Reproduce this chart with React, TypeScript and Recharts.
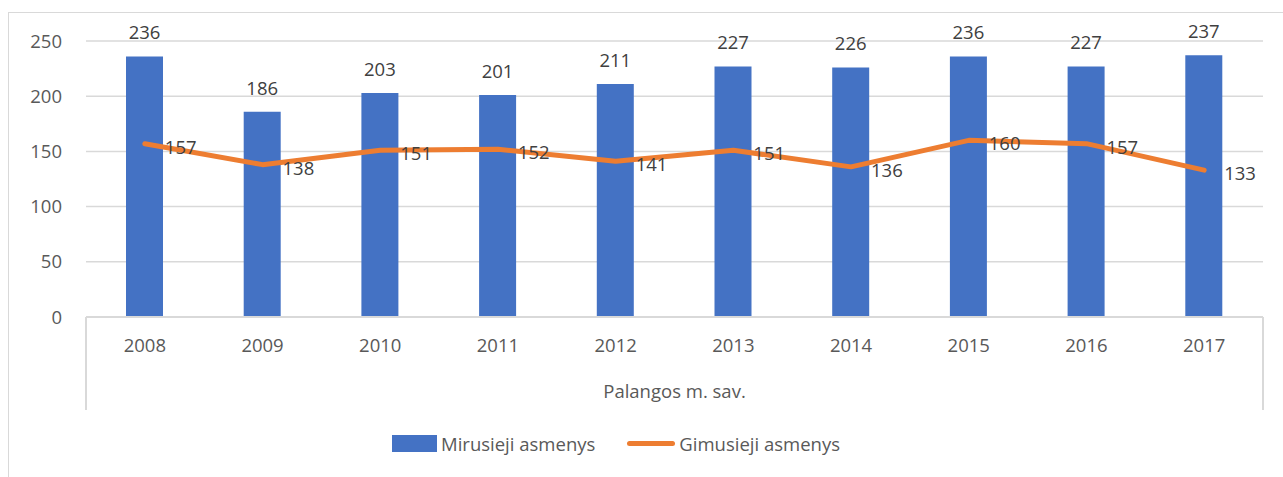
import React from "react"
import {
  ComposedChart, Bar, Line, XAxis, YAxis, CartesianGrid, LabelList,
} from "recharts"

const years = ["2008", "2009", "2010", "2011", "2012", "2013", "2014", "2015", "2016", "2017"]
const mirusieji = [236, 186, 203, 201, 211, 227, 226, 236, 227, 237]
const gimusieji = [157, 138, 151, 152, 141, 151, 136, 160, 157, 133]
const yTicks = [0, 50, 100, 150, 200, 250]
const groupLabel = "Palangos m. sav."
const seriesNames = ["Mirusieji asmenys", "Gimusieji asmenys"]

const BLUE = "#4472C4"
const ORANGE = "#ED7D31"
const GRID = "#D9D9D9"
const TEXT = "#595959"
const FONT = "'Open Sans', sans-serif"
const FS = 18.5

const data = years.map((y, i) => ({
  year: y,
  mir: mirusieji[i],
  gim: gimusieji[i],
}))

function GroupAxisLabel(props: any) {
  const vb = props.viewBox || {}
  const { x, y, width, height } = vb
  return (
    <g>
      <line x1={x} y1={y} x2={x} y2={y + height} stroke={GRID} strokeWidth={2} />
      <line x1={x + width} y1={y} x2={x + width} y2={y + height} stroke={GRID} strokeWidth={2} />
      <text
        x={x + width / 2} y={y + 81} textAnchor="middle"
        fill={TEXT} fontSize={FS} fontFamily={FONT}
      >
        {groupLabel}
      </text>
    </g>
  )
}

function LineValueLabel(props: any) {
  const { x, y, value } = props
  return (
    <text
      x={x + 20} y={y + 5} textAnchor="start" dominantBaseline="middle"
      fill="#404040" fontSize={FS} fontFamily={FONT}
    >
      {value}
    </text>
  )
}

export default function App() {
  return (
    <div style={{ position: "absolute", left: 0, top: 0, width: 1283, height: 477, overflow: "hidden", background: "#fff" }}>
      <div
        style={{
          position: "absolute", left: 8, top: 12, width: 1400, height: 600,
          border: `1.5px solid ${GRID}`, boxSizing: "border-box",
        }}
      />
      <div style={{ position: "absolute", left: 0, top: 0 }}>
        <ComposedChart
          width={1283} height={477} data={data}
          margin={{ top: 41, right: 20, left: 0, bottom: 67 }}
        >
          <CartesianGrid vertical={false} stroke={GRID} strokeWidth={1.5} />
          <XAxis
            dataKey="year" height={93}
            axisLine={{ stroke: GRID, strokeWidth: 2 }}
            tickLine={false} tickSize={0} tickMargin={22}
            tick={{ fill: TEXT, fontSize: FS, fontFamily: FONT }}
            label={{ content: GroupAxisLabel }}
          />
          <YAxis
            width={86} domain={[0, 250]} ticks={yTicks}
            axisLine={false} tickLine={false} tickSize={0} tickMargin={24}
            tick={{ fill: TEXT, fontSize: FS, fontFamily: FONT }}
          />
          <Bar dataKey="mir" name={seriesNames[0]} fill={BLUE} barSize={37} isAnimationActive={false}>
            <LabelList
              dataKey="mir" position="top" offset={17}
              fill="#404040" fontSize={FS} fontFamily={FONT}
            />
          </Bar>
          <Line
            dataKey="gim" name={seriesNames[1]} type="linear"
            stroke={ORANGE} strokeWidth={5} strokeLinecap="round" strokeLinejoin="round"
            dot={false} activeDot={false} isAnimationActive={false}
          >
            <LabelList dataKey="gim" content={LineValueLabel} />
          </Line>
        </ComposedChart>
      </div>
      <div
        style={{
          position: "absolute", left: 0, top: 431, width: 1232, display: "flex",
          justifyContent: "center", alignItems: "center", gap: 32,
          fontFamily: FONT, fontSize: FS, color: TEXT,
        }}
      >
        <div style={{ display: "flex", alignItems: "center", gap: 4 }}>
          <span style={{ display: "inline-block", width: 45, height: 17, background: BLUE }} />
          <span>{seriesNames[0]}</span>
        </div>
        <div style={{ display: "flex", alignItems: "center", gap: 4 }}>
          <span style={{ display: "inline-block", width: 48, height: 5, borderRadius: 3, background: ORANGE }} />
          <span>{seriesNames[1]}</span>
        </div>
      </div>
    </div>
  )
}
